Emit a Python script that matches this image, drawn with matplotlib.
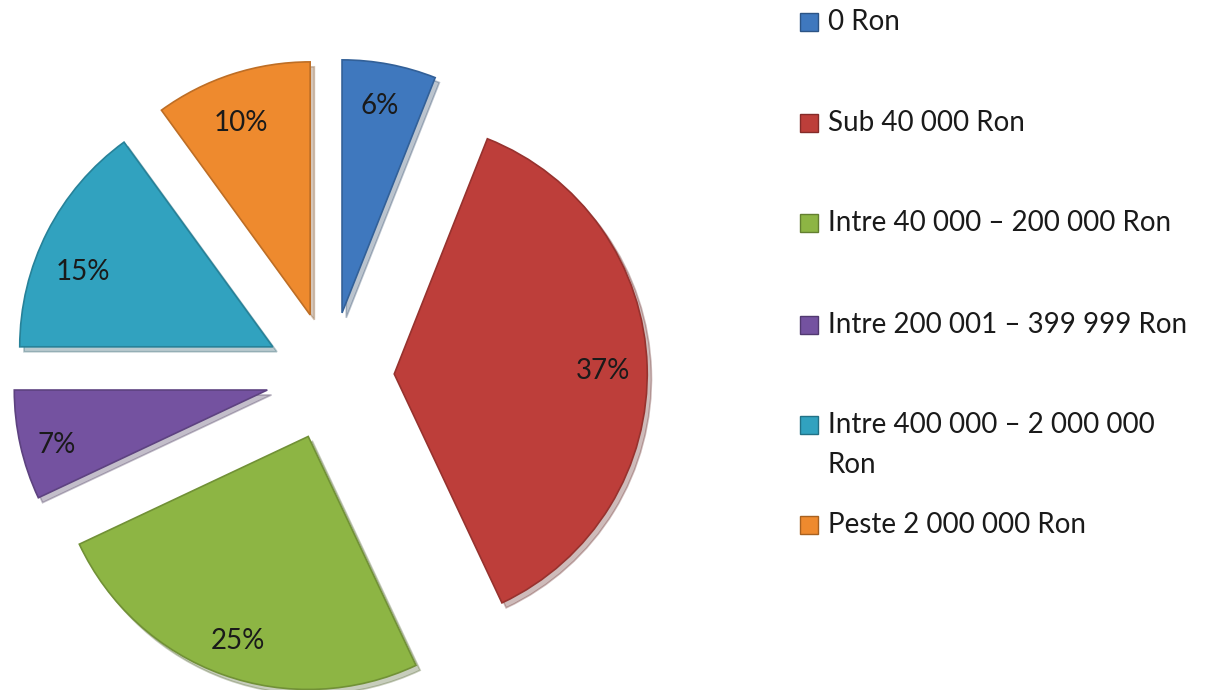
import textwrap
import matplotlib
matplotlib.use("Agg")
import matplotlib.pyplot as plt
from matplotlib.patches import Rectangle
import matplotlib.colors as mcolors

categories = ["0 Ron", "Sub 40 000 Ron", "Intre 40 000 – 200 000 Ron",
              "Intre 200 001 – 399 999 Ron", "Intre 400 000 – 2 000 000 Ron",
              "Peste 2 000 000 Ron"]
values = [6, 37, 25, 7, 15, 10]
colors = ["#3F78BE", "#BD3E3A", "#8DB544", "#7452A0", "#31A2BF", "#EE8A2E"]

FONT = ["Lato", "DejaVu Sans"]
FS = 20

W, H = 1225, 690
R_PX = 253.0
CX, CY = 330.0, 376.0
# small per-label nudges (pixels, x right / y down) to mimic Excel's best-fit placement
label_nudge = [(-2, 2), (-4, 4), (2, 5), (-3, 9), (0, 22), (-4, 10)]

fig = plt.figure(figsize=(W / 100, H / 100), dpi=100)
ax = fig.add_axes([0, 0, 1, 1])


def darker(c, f=0.75):
    r, g, b = mcolors.to_rgb(c)
    return (r * f, g * f, b * f)


wedges, texts, autotexts = ax.pie(
    values, startangle=90, counterclock=False, radius=1.0,
    explode=[0.254] * len(values), colors=colors,
    autopct="%.0f%%", pctdistance=0.84,
    shadow={"ox": 0.012, "oy": -0.014, "shade": 0.5, "alpha": 0.3},
    wedgeprops={"linewidth": 1.2},
    textprops={"fontsize": FS, "family": FONT, "color": "#1a1a1a"},
)
for w, c in zip(wedges, colors):
    w.set_edgecolor(darker(c, 0.8))
for t, (dx, dy) in zip(autotexts, label_nudge):
    x, y = t.get_position()
    t.set_position((x + dx / R_PX, y - dy / R_PX))

ax.set_aspect("auto")
ax.set_xlim(-CX / R_PX, (W - CX) / R_PX)
ax.set_ylim(-(H - CY) / R_PX, CY / R_PX)
ax.axis("off")

# Legend (manual, pixel coordinates in an overlay axes)
lax = fig.add_axes([0, 0, 1, 1])
lax.set_xlim(0, W)
lax.set_ylim(H, 0)
lax.axis("off")
lax.patch.set_alpha(0)
row_y = [22, 123, 223, 325, 425, 525]
for cat, col, y in zip(categories, colors, row_y):
    lax.add_patch(Rectangle((800, y - 9), 18, 18, facecolor=col,
                            edgecolor=darker(col, 0.7), linewidth=1))
    for i, line in enumerate(textwrap.wrap(cat, width=27)):
        lax.text(828, y + i * 40, line, fontsize=FS, family=FONT,
                 color="#1a1a1a", va="center", ha="left")

fig.savefig("out.png", dpi=100, facecolor="white")
